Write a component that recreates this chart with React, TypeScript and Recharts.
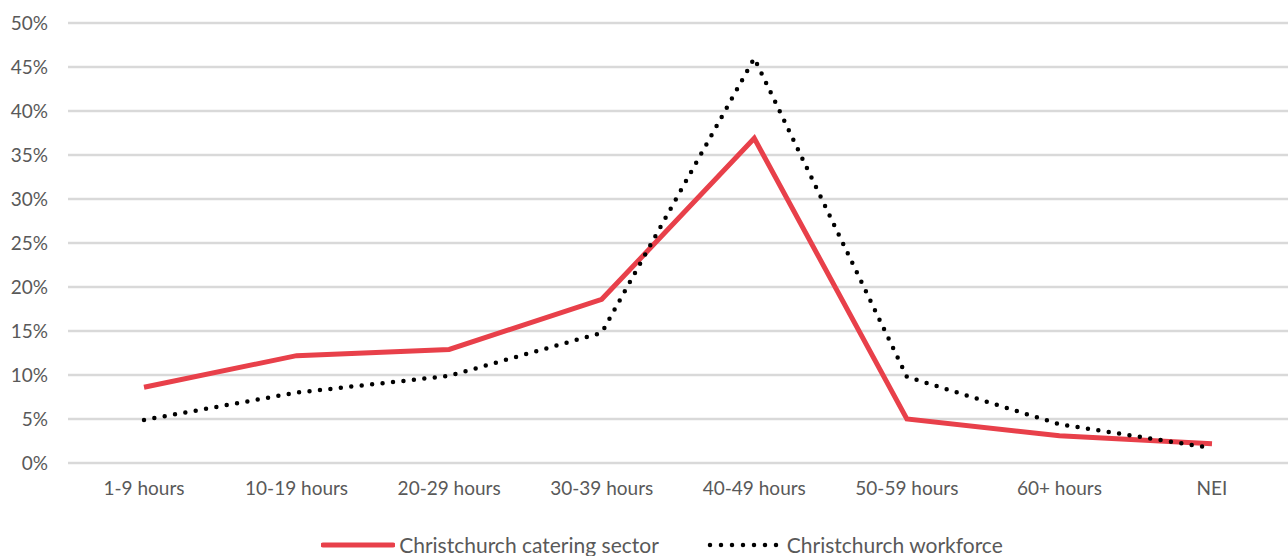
import React from "react";
import { LineChart, Line, XAxis, YAxis, CartesianGrid, Legend } from "recharts";

const categories = ["1-9 hours", "10-19 hours", "20-29 hours", "30-39 hours", "40-49 hours", "50-59 hours", "60+ hours", "NEI"];
const cateringSector = [8.6, 12.2, 12.9, 18.6, 36.9, 5.0, 3.1, 2.2];
const workforce = [4.9, 8.0, 9.9, 14.8, 46.0, 9.8, 4.4, 1.7];
const yTicks = [0, 5, 10, 15, 20, 25, 30, 35, 40, 45, 50];

const data = categories.map((c, i) => ({ name: c, catering: cateringSector[i], workforce: workforce[i] }));

const FONT = "Lato, 'Open Sans', sans-serif";
const RED = "#E8404A";

const LegendContent = () => (
  <div style={{ display: "flex", justifyContent: "center", alignItems: "center", fontFamily: FONT, fontSize: 21, color: "#595959", lineHeight: "24px", paddingLeft: 36 }}>
    <svg width={74} height={10} style={{ marginRight: 4 }}>
      <line x1={2} y1={5} x2={72} y2={5} stroke={RED} strokeWidth={5} strokeLinecap="round" />
    </svg>
    <span style={{ marginRight: 48 }}>Christchurch catering sector</span>
    <svg width={76} height={10} style={{ marginRight: 4 }}>
      <line x1={3} y1={5} x2={72} y2={5} stroke="#000" strokeWidth={4.5} strokeDasharray="0 11" strokeLinecap="round" />
    </svg>
    <span>Christchurch workforce</span>
  </div>
);

export default function App() {
  return (
    <div style={{ position: "absolute", left: 0, top: 0, width: 1288, height: 556, background: "#fff" }}>
      <LineChart width={1288} height={556} data={data} margin={{ top: 23, right: 0, bottom: 0, left: 0 }}>
        <CartesianGrid vertical={false} stroke="#D9D9D9" strokeWidth={2.5} />
        <XAxis
          dataKey="name"
          axisLine={false}
          tickLine={false}
          tickSize={0}
          tickMargin={19}
          height={58}
          padding={{ left: 76, right: 76 }}
          tick={{ fill: "#595959", fontSize: 19, fontFamily: FONT }}
        />
        <YAxis
          domain={[0, 50]}
          ticks={yTicks}
          tickFormatter={(v) => `${v}%`}
          axisLine={false}
          tickLine={false}
          tickSize={0}
          tickMargin={20}
          width={68}
          interval={0}
          tick={{ fill: "#595959", fontSize: 19, fontFamily: FONT }}
        />
        <Legend verticalAlign="bottom" height={35} content={<LegendContent />} wrapperStyle={{ top: 533, left: 0, width: 1288 }} />
        <Line dataKey="catering" stroke={RED} strokeWidth={5} dot={false} isAnimationActive={false} strokeLinejoin="miter" />
        <Line dataKey="workforce" stroke="#000" strokeWidth={4.5} strokeDasharray="0 10.5" strokeLinecap="round" dot={false} isAnimationActive={false} />
      </LineChart>
    </div>
  );
}
